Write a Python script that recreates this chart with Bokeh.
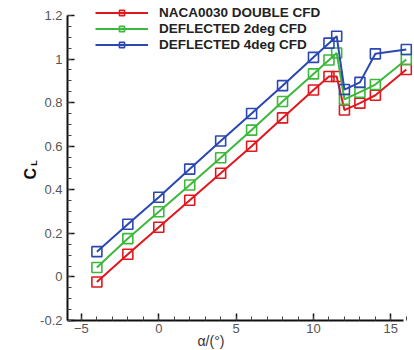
import numpy as np
from bokeh.plotting import figure
from bokeh.models import (Range1d, FixedTicker, Legend, LegendItem, Title)
from bokeh.embed import file_html
from bokeh.resources import INLINE

alpha = [-4, -2, 0, 2, 4, 6, 8, 10, 11, 11.5, 12, 13, 14, 16]
cl_naca = [-0.023, 0.104, 0.228, 0.352, 0.476, 0.600, 0.730, 0.858, 0.920, 0.920, 0.766, 0.798, 0.834, 0.952]
cl_2deg = [0.043, 0.176, 0.299, 0.422, 0.547, 0.674, 0.805, 0.932, 0.996, 1.028, 0.815, 0.848, 0.883, 0.998]
cl_4deg = [0.116, 0.242, 0.366, 0.495, 0.624, 0.750, 0.878, 1.008, 1.073, 1.105, 0.860, 0.893, 1.024, 1.044]

series_names = ["NACA0030 DOUBLE CFD", "DEFLECTED 2deg CFD", "DEFLECTED 4deg CFD"]
colors = ["#e0181e", "#3cb83c", "#2a48b0"]

y_ticks = [-0.2, 0, 0.2, 0.4, 0.6, 0.8, 1.0, 1.2]
y_tick_labels = ["-0.2", "0", "0.2", "0.4", "0.6", "0.8", "1", "1.2"]
x_ticks = [-5, 0, 5, 10, 15]

# frame top placed 10 px above the 1.2 tick so the legend is not clipped
p = figure(width=414, height=350, output_backend="svg", toolbar_location=None,
           x_range=Range1d(-5.9, 16.4), y_range=Range1d(-0.2, 1.2 + 10 / 217.86),
           min_border_left=67, min_border_right=2, min_border_top=5, min_border_bottom=30)
p.outline_line_color = None
p.grid.visible = False
p.background_fill_color = "white"

items = []
for name, ys, c in zip(series_names, [cl_naca, cl_2deg, cl_4deg], colors):
    l = p.line(alpha, ys, line_color=c, line_width=2)
    s = p.scatter(alpha, ys, marker="square", size=10, line_color=c, line_width=1.6,
                  fill_alpha=0)
    items.append(LegendItem(label=name, renderers=[l, s]))

legend = Legend(items=items, location=(28, 268), border_line_color=None,
                background_fill_alpha=0, glyph_width=53, glyph_height=13,
                label_height=13, spacing=1, padding=0, margin=0, label_standoff=11,
                label_text_font="Liberation Sans", label_text_font_style="bold",
                label_text_font_size="13.5px", label_text_color="#222222")
p.add_layout(legend, "center")

# axes
for ax in (p.xaxis[0], p.yaxis[0]):
    ax.axis_line_width = 2
    ax.axis_line_color = "#111111"
    ax.major_tick_in = 7
    ax.major_tick_out = 0
    ax.minor_tick_in = 4
    ax.minor_tick_out = 0
    ax.major_tick_line_width = 1.5
    ax.major_tick_line_color = "#111111"
    ax.minor_tick_line_color = "#444444"
    ax.major_label_text_font = "Liberation Sans"
    ax.major_label_text_font_size = "13px"
    ax.major_label_text_color = "#555555"

p.xaxis.ticker = FixedTicker(ticks=x_ticks, minor_ticks=list(range(-5, 17)))
p.xaxis.bounds = (-5.9, 15.8)
p.xaxis.major_label_standoff = 3
p.yaxis.ticker = FixedTicker(ticks=y_ticks,
                             minor_ticks=[round(-0.2 + 0.05 * i, 2) for i in range(29)])
p.yaxis.major_label_overrides = {t: lab for t, lab in zip(y_ticks, y_tick_labels)}
p.yaxis.major_label_standoff = 5
p.yaxis.bounds = (-0.2, 1.2)

# y title: subscript "L" as the axis label, "C" as a title just outside it
p.yaxis.axis_label = "L"
p.yaxis.axis_label_text_font = "Liberation Sans"
p.yaxis.axis_label_text_font_style = "bold"
p.yaxis.axis_label_text_font_size = "9px"
p.yaxis.axis_label_text_color = "#111111"
p.yaxis.axis_label_standoff = -2

p.add_layout(Title(text="C", align="left", offset=141, vertical_align="bottom",
                   standoff=-24, text_font="Liberation Sans", text_font_style="bold",
                   text_font_size="16px", text_color="#111111"), "left")

# x title
p.add_layout(Title(text="α/(°)", align="left", offset=130, vertical_align="top",
                   standoff=-6, text_font="Liberation Sans", text_font_style="normal",
                   text_font_size="14px", text_color="#333333"), "below")

open("out.html", "w").write(file_html(p, INLINE))
